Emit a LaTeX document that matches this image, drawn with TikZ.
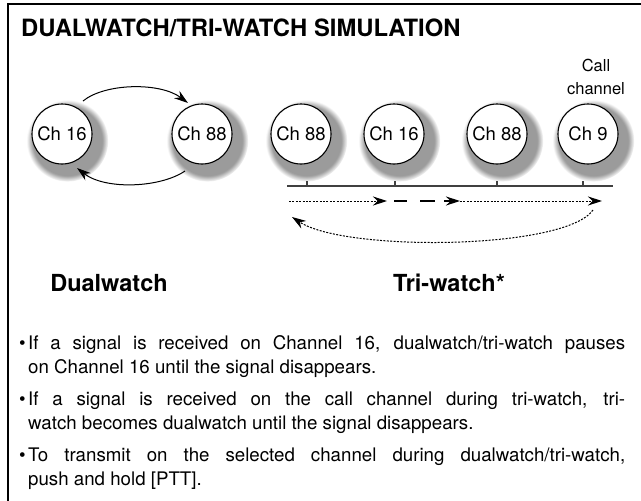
\documentclass[tikz,border=0pt]{standalone}
\usepackage{fontspec}
\setmainfont{TeX Gyre Heros}
\usetikzlibrary{arrows.meta,shadows,calc}
\newcommand{\bodyfont}{\fontsize{18.7}{22}\selectfont}
\begin{document}
\begin{tikzpicture}[x=1pt,y=-1pt,
  chan/.style={circle,draw=black,line width=1.1pt,fill=white,minimum size=60pt,inner sep=0pt,
    font=\fontsize{18.5}{20}\selectfont,
    circular drop shadow={shadow xshift=4pt,shadow yshift=-5pt,shadow scale=1.36,opacity=0.65,fill=black!60}},
  tipa/.style={-{Stealth[length=14pt,width=9pt]}},
  dotln/.style={line width=1pt,dash pattern=on 2pt off 1.4pt},
  arc/.style={line width=1pt},
  body/.style={anchor=base west,inner sep=0pt,font=\bodyfont},
  head/.style={anchor=base,inner sep=0pt,font=\fontsize{23.5}{26}\bfseries}
]
\useasboundingbox (0,0) rectangle (641,501);
\fill[white] (0,0) rectangle (641,501);
\draw[line width=1.2pt] (8,505) -- (8,4) -- (645,4);

\node[anchor=base west,inner sep=0pt,font=\fontsize{23.8}{26}\bfseries] (title) at (21,36) {DUALWATCH/TRI-WATCH SIMULATION};

% dualwatch
\node[chan] (d16) at (62,134) {Ch 16};
\node[chan] (d88) at (202,134) {Ch 88};
\draw[arc,tipa] ($(d16.center)+(21,-33)$) .. controls ($(d16.center)+(43,-51)$) and ($(d88.center)+(-42,-52)$) .. ($(d88.center)+(-14,-31)$);
\draw[arc,tipa] ($(d88.center)+(-17,37)$) .. controls ($(d88.center)+(-42,54)$) and ($(d16.center)+(43,56)$) .. ($(d16.center)+(15,34)$);

% tri-watch
\node[chan] (t88a) at (301,134) {Ch 88};
\node[chan] (t16) at (394,134) {Ch 16};
\node[chan] (t88b) at (497,134) {Ch 88};
\node[chan] (t9) at (588,134) {Ch 9};
\node[align=center,inner sep=0pt,font=\fontsize{16.5}{23}\selectfont] (call) at (596,77) {Call\\channel};

\coordinate (l0) at (287,186);
\coordinate (l1) at (613,186);
\draw[line width=1.6pt,black!75] (l0) -- (l1);
\foreach \x/\n in {307/k1,395/k2,497/k3,583/k4}{
  \coordinate (\n) at (\x,186);
  \draw[line width=1.2pt,black!75] (\n) -- ++(0,-5);
}

\coordinate (a0) at (289,201);
\coordinate (a1) at (387,201);
\coordinate (a2) at (394,201);
\coordinate (a3) at (407,201);
\coordinate (a4) at (420,201);
\coordinate (a5) at (435,201);
\coordinate (a6) at (444,201);
\coordinate (a7) at (460,201);
\coordinate (a8) at (602,201);
\draw[dotln,tipa] (a0) -- (a1);
\draw[line width=1.2pt] (a2) -- (a3);
\draw[line width=1.2pt] (a4) -- (a5);
\draw[line width=1.2pt,tipa] (a6) -- (a7);
\draw[dotln,tipa] (a7) -- (a8);

\coordinate (r0) at (593,210);
\coordinate (r1) at (292,217);
\draw[dotln,tipa] (r0) .. controls (565,250) and (345,252) .. (r1);

\node[head] (dual) at (109,291) {Dualwatch};
\node[head] (tri) at (449,291) {Tri-watch*};

% bullets
\node[body] (u1) at (19,349) {\textbullet};
\node[body] (u2) at (19,405) {\textbullet};
\node[body] (u3) at (19,461) {\textbullet};
\node[body] (p1) at (28,349) {\makebox[597pt][s]{If a signal is received on Channel 16, dualwatch/tri-watch pauses}};
\node[body] (p2) at (28,373) {on Channel 16 until the signal disappears.};
\node[body] (p3) at (28,405) {\makebox[597pt][s]{If a signal is received on the call channel during tri-watch, tri-}};
\node[body] (p4) at (28,429) {watch becomes dualwatch until the signal disappears.};
\node[body] (p5) at (28,461) {\makebox[597pt][s]{To transmit on the selected channel during dualwatch/tri-watch,}};
\node[body] (p6) at (28,485) {push and hold [PTT].};
\end{tikzpicture}
\end{document}
